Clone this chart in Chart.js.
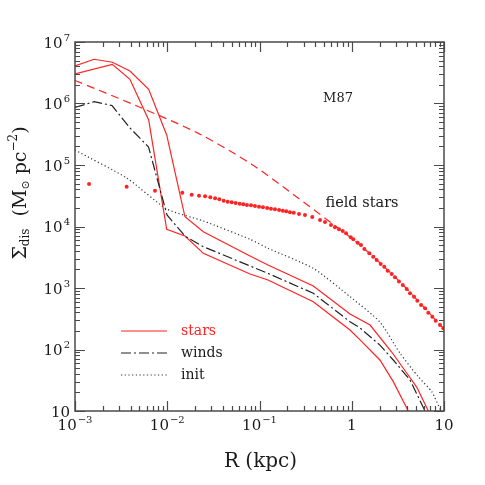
<!DOCTYPE html>
<html>
<head>
<meta charset="utf-8">
<script src="https://cdn.jsdelivr.net/npm/chart.js@4"></script>
<style>
  html, body { margin: 0; background: #fff; }
</style>
</head>
<body>
<canvas id="c" width="485" height="485"></canvas>
<script>
// stars (upper tail, late drop)
const rStarsA = [0.001, 0.00161, 0.00254, 0.00394, 0.00629, 0.00986, 0.01556, 0.0246, 0.0789, 0.1236, 0.383, 0.957, 1.58, 2.71, 3.94, 5.06, 6.76];
const sigStarsA = [4.07e6, 5.24e6, 4.68e6, 3.37e6, 1.70e6, 3.08e5, 1.44e4, 8.22e3, 3.31e3, 2.37e3, 1.08e3, 378, 250, 91, 41.5, 24.5, 10];
// stars (lower tail, early drop)
const rStarsB = [0.001, 0.00254, 0.00394, 0.00629, 0.00986, 0.01556, 0.0246, 0.0789, 0.1236, 0.383, 0.957, 1.23, 2.02, 2.82, 4.10];
const sigStarsB = [3.02e6, 4.34e6, 2.47e6, 5.40e5, 9.0e3, 7.0e3, 3.66e3, 1.69e3, 1.35e3, 598, 207, 143, 67.5, 30.0, 10];
// winds
const rWinds = [0.001, 0.00161, 0.00252, 0.00394, 0.00627, 0.00994, 0.01556, 0.0246, 0.0789, 0.1236, 0.383, 0.957, 1.23, 2.02, 2.82, 4.28, 6.23];
const sigWinds = [8.61e5, 1.07e6, 9.27e5, 4.0e5, 1.96e5, 1.54e4, 7.0e3, 4.70e3, 2.28e3, 1.73e3, 820, 283, 224, 118, 67.5, 31.9, 10];
// init
const rInit = [0.001, 0.00363, 0.00986, 0.0246, 0.0789, 0.1236, 0.383, 0.957, 2.02, 3.34, 5.26, 7.36, 9.27];
const sigInit = [1.75e5, 6.15e4, 1.93e4, 1.23e4, 6.20e3, 4.43e3, 2.09e3, 723, 280, 86.7, 36.1, 20.6, 10];
// dashed model profile
const rModel = [0.001, 0.0047, 0.0217, 0.0789, 0.214, 0.607, 1.23, 3.34, 10];
const sigModel = [2.37e6, 9.10e5, 3.27e5, 1.07e5, 3.64e4, 1.13e4, 5.0e3, 1.25e3, 215];
// field stars (dots)
const rField = [0.00142, 0.00363, 0.00736, 0.01456, 0.0184, 0.0221, 0.0257, 0.0293, 0.0330, 0.0367, 0.0409, 0.0452, 0.0500, 0.0552, 0.0610, 0.0667, 0.0731, 0.0809, 0.0893, 0.0988, 0.109, 0.121, 0.133, 0.147, 0.163, 0.179, 0.195, 0.214, 0.235, 0.268, 0.311, 0.373, 0.453, 0.513, 0.596, 0.658, 0.727, 0.798, 0.867, 0.975, 1.04, 1.16, 1.26, 1.37, 1.55, 1.71, 1.86, 2.06, 2.25, 2.45, 2.71, 2.94, 3.25, 3.57, 3.94, 4.28, 4.73, 5.14, 5.64, 6.23, 6.76, 7.47, 8.13, 9.05, 9.83];
const sigField = [4.91e4, 4.44e4, 3.82e4, 3.55e4, 3.29e4, 3.17e4, 3.10e4, 2.98e4, 2.87e4, 2.77e4, 2.63e4, 2.53e4, 2.47e4, 2.41e4, 2.35e4, 2.30e4, 2.24e4, 2.21e4, 2.16e4, 2.10e4, 2.05e4, 2.00e4, 1.95e4, 1.90e4, 1.85e4, 1.81e4, 1.77e4, 1.70e4, 1.67e4, 1.60e4, 1.54e4, 1.43e4, 1.28e4, 1.18e4, 1.06e4, 9.70e3, 9.00e3, 8.45e3, 7.75e3, 6.67e3, 6.18e3, 5.44e3, 5.00e3, 4.30e3, 3.66e3, 3.23e3, 2.85e3, 2.45e3, 2.22e3, 1.91e3, 1.69e3, 1.49e3, 1.27e3, 1.12e3, 964, 820, 723, 622, 530, 468, 396, 341, 294, 250, 221];

// tick labels: [value, base, exponent]
const xTickLabels = [[1e-3, "10", "\u22123"], [1e-2, "10", "\u22122"], [1e-1, "10", "\u22121"], [1, "1", ""], [10, "10", ""]];
const yTickLabels = [[1e7, "10", "7"], [1e6, "10", "6"], [1e5, "10", "5"], [1e4, "10", "4"], [1e3, "10", "3"], [1e2, "10", "2"], [10, "10", ""]];

const RED = "rgb(255,35,35)";
const FAM = '"DejaVu Serif", "Liberation Serif", serif';
const INK = "#1a1a1a";

const pts = (xs, ys) => xs.map((x, i) => ({ x: x, y: ys[i] }));

function powLabel(ctx, base, exp, x, y, align, size) {
  ctx.font = size + "px " + FAM;
  const wb = ctx.measureText(base).width;
  const small = Math.round(size * 0.68);
  ctx.font = small + "px " + FAM;
  const we = exp ? ctx.measureText(exp).width + 1 : 0;
  const w = wb + we;
  let x0 = x;
  if (align === "center") x0 = x - w / 2;
  if (align === "right") x0 = x - w;
  ctx.textAlign = "left";
  ctx.textBaseline = "middle";
  ctx.font = size + "px " + FAM;
  ctx.fillText(base, x0, y);
  if (exp) {
    ctx.font = small + "px " + FAM;
    ctx.fillText(exp, x0 + wb + 1, y - 6);
  }
}

// draws a run of [text, size, dy] pieces centered at 0,0
function richText(ctx, parts) {
  let w = 0;
  parts.forEach(p => { ctx.font = p[1] + "px " + FAM; w += ctx.measureText(p[0]).width; });
  let x = -w / 2;
  ctx.textAlign = "left";
  ctx.textBaseline = "middle";
  parts.forEach(p => {
    ctx.font = p[1] + "px " + FAM;
    ctx.fillText(p[0], x, p[2]);
    x += ctx.measureText(p[0]).width;
  });
}

function tickValues(minExp, maxExp) {
  const out = [];
  for (let e = minExp; e < maxExp; e++) {
    for (let m = 1; m <= 9; m++) out.push([m * Math.pow(10, e), m === 1]);
  }
  out.push([Math.pow(10, maxExp), true]);
  return out;
}

const framePlugin = {
  id: "frame",
  afterDatasetsDraw(chart) {
    const ctx = chart.ctx;
    const a = chart.chartArea;
    const xs = chart.scales.x, ys = chart.scales.y;
    ctx.save();
    ctx.strokeStyle = "#4a4a4a";
    ctx.lineWidth = 1.5;
    ctx.strokeRect(a.left, a.top, a.right - a.left, a.bottom - a.top);

    ctx.lineWidth = 1.2;
    ctx.beginPath();
    tickValues(-3, 1).forEach(([v, major]) => {
      const px = Math.round(xs.getPixelForValue(v)) + 0.5;
      const len = major ? 10 : 5;
      ctx.moveTo(px, a.bottom); ctx.lineTo(px, a.bottom - len);
      ctx.moveTo(px, a.top); ctx.lineTo(px, a.top + len);
    });
    tickValues(1, 7).forEach(([v, major]) => {
      const py = Math.round(ys.getPixelForValue(v)) + 0.5;
      const len = major ? 10 : 5;
      ctx.moveTo(a.left, py); ctx.lineTo(a.left + len, py);
      ctx.moveTo(a.right, py); ctx.lineTo(a.right - len, py);
    });
    ctx.stroke();

    ctx.fillStyle = INK;
    xTickLabels.forEach(([v, b, e]) => {
      powLabel(ctx, b, e, xs.getPixelForValue(v), a.bottom + 15, "center", 15);
    });
    yTickLabels.forEach(([v, b, e]) => {
      powLabel(ctx, b, e, a.left - 5, ys.getPixelForValue(v) + 2, "right", 15);
    });

    // axis titles
    ctx.save();
    ctx.translate((a.left + a.right) / 2 + 1, a.bottom + 51);
    richText(ctx, [["R (kpc)", 20, 0]]);
    ctx.restore();

    ctx.save();
    ctx.translate(21, 193);
    ctx.rotate(-Math.PI / 2);
    richText(ctx, [["\u03A3", 19, 0], ["dis", 12, 5], ["  (M", 19, 0], ["\u2299", 11, 5], [" pc", 19, 0], ["\u22122", 12, -7], [")", 19, 0]]);
    ctx.restore();

    // annotations
    ctx.fillStyle = INK;
    ctx.textAlign = "center";
    ctx.textBaseline = "middle";
    ctx.font = "13px " + FAM;
    ctx.fillText("M87", 338, 99);
    ctx.font = "14.5px " + FAM;
    ctx.fillText("field stars", 362, 203);

    // legend
    const legend = [["stars", RED, [], RED], ["winds", "#222", [10, 3, 2, 3], INK], ["init", "#333", [1.2, 2.5], INK]];
    legend.forEach((it, i) => {
      const y = 331 + i * 22;
      ctx.strokeStyle = it[1];
      ctx.lineWidth = 1.2;
      ctx.setLineDash(it[2]);
      ctx.beginPath();
      ctx.moveTo(121, y); ctx.lineTo(167, y);
      ctx.stroke();
      ctx.setLineDash([]);
      ctx.fillStyle = it[3];
      ctx.font = "14px " + FAM;
      ctx.textAlign = "left";
      ctx.fillText(it[0], 181, y);
    });
    ctx.restore();
  }
};

new Chart(document.getElementById("c"), {
  type: "scatter",
  data: {
    datasets: [
      { data: pts(rModel, sigModel), showLine: true, borderColor: RED, borderWidth: 1.2, borderDash: [8, 5], pointRadius: 0, tension: 0.3 },
      { data: pts(rInit, sigInit), showLine: true, borderColor: "#333", borderWidth: 1.2, borderDash: [1.2, 2.5], pointRadius: 0, tension: 0.2 },
      { data: pts(rWinds, sigWinds), showLine: true, borderColor: "#222", borderWidth: 1.2, borderDash: [10, 3, 2, 3], pointRadius: 0, tension: 0 },
      { data: pts(rStarsA, sigStarsA), showLine: true, borderColor: RED, borderWidth: 1.2, pointRadius: 0, tension: 0 },
      { data: pts(rStarsB, sigStarsB), showLine: true, borderColor: RED, borderWidth: 1.2, pointRadius: 0, tension: 0 },
      { data: pts(rField, sigField), showLine: false, pointRadius: 2, pointBackgroundColor: RED, pointBorderWidth: 0, borderColor: RED }
    ]
  },
  options: {
    responsive: false,
    animation: false,
    devicePixelRatio: 1,
    layout: { padding: { left: 75, top: 42, right: 41, bottom: 74 } },
    plugins: { legend: { display: false }, tooltip: { enabled: false } },
    scales: {
      x: { type: "logarithmic", min: 1e-3, max: 10, display: false },
      y: { type: "logarithmic", min: 10, max: 1e7, display: false }
    }
  },
  plugins: [framePlugin]
});
</script>
</body>
</html>
